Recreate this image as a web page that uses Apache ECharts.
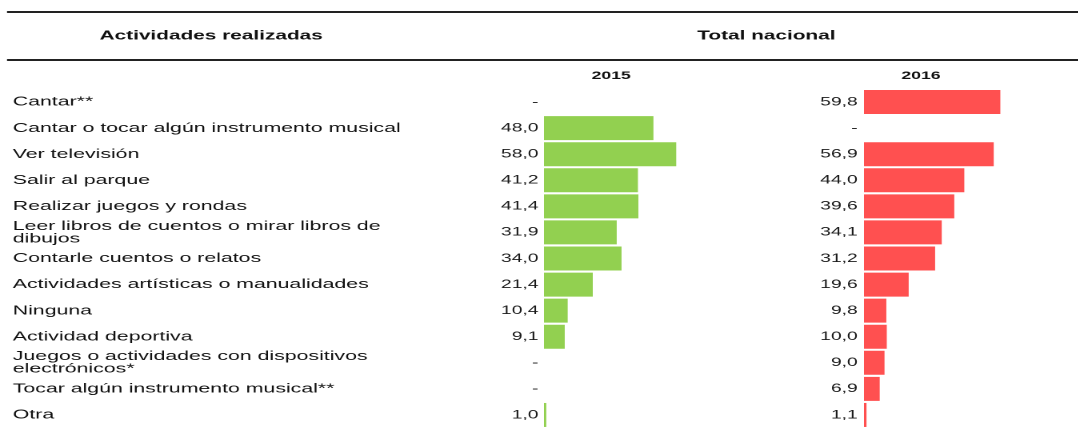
<!DOCTYPE html>
<html>
<head>
<meta charset="utf-8">
<script src="https://cdn.jsdelivr.net/npm/echarts@6/dist/echarts.min.js"></script>
<style>
  html, body { margin: 0; padding: 0; background: #fff; overflow: hidden; }
  /* el original se ve estirado a lo ancho, se dibuja mas angosto y se escala */
  #chart { width: 674.375px; height: 430px; transform: scaleX(1.6); transform-origin: 0 0; }
</style>
</head>
<body>
<div id="chart"></div>
<script>
// datos
const categories = [
  'Cantar**',
  'Cantar o tocar algún instrumento musical',
  'Ver televisión',
  'Salir al parque',
  'Realizar juegos y rondas',
  'Leer libros de cuentos o mirar libros de\ndibujos',
  'Contarle cuentos o relatos',
  'Actividades artísticas o manualidades',
  'Ninguna',
  'Actividad deportiva',
  'Juegos o actividades con dispositivos\nelectrónicos*',
  'Tocar algún instrumento musical**',
  'Otra'
];
const values2015 = [null, 48.0, 58.0, 41.2, 41.4, 31.9, 34.0, 21.4, 10.4, 9.1, null, null, 1.0];
const values2016 = [59.8, null, 56.9, 44.0, 39.6, 34.1, 31.2, 19.6, 9.8, 10.0, 9.0, 6.9, 1.1];
const years = ['2015', '2016'];
const headerLeft = 'Actividades realizadas';
const headerRight = 'Total nacional';

const SX = 1.6; // factor de estiramiento horizontal
const W = 1079 / SX;

// 48.0 -> "48,0", vacio -> "-"
function fmt(v){
  return v == null ? '-' : v.toFixed(1).replace('.', ',');
}

let chart = echarts.init(document.getElementById('chart'), null, {devicePixelRatio: 2});

const gridTop = 89, gridH = 339;
const xMax = 60, barW = 85.5;
const font = 'Liberation Sans, Arial, sans-serif';

let option = {
  animation: false,
  textStyle: { fontFamily: font },
  grid: [
    {left: 340, top: gridTop, width: barW, height: gridH},
    {left: 540, top: gridTop, width: barW, height: gridH}
  ],
  xAxis: [
    {gridIndex: 0, type: 'value', min: 0, max: xMax, show: false},
    {gridIndex: 1, type: 'value', min: 0, max: xMax, show: false}
  ],
  yAxis: [
    // nombres de actividades
    {
      gridIndex: 0, type: 'category', position: 'left', inverse: true, data: categories,
      axisLine: {show: false}, axisTick: {show: false},
      axisLabel: {
        align: 'left', margin: 332, fontSize: 13.3, lineHeight: 12.5,
        padding: [6, 0, 0, 0], color: '#111', fontFamily: font
      }
    },
    // valores 2015
    {
      gridIndex: 0, type: 'category', position: 'left', offset: 0, inverse: true,
      data: values2015.map(fmt),
      axisLine: {show: false}, axisTick: {show: false},
      axisLabel: {margin: 3.5, fontSize: 12, padding: [6, 0, 0, 0], color: '#1a1a1a', fontFamily: font}
    },
    // valores 2016
    {
      gridIndex: 1, type: 'category', position: 'left', inverse: true,
      data: values2016.map(fmt),
      axisLine: {show: false}, axisTick: {show: false},
      axisLabel: {margin: 4, fontSize: 12, padding: [6, 0, 0, 0], color: '#1a1a1a', fontFamily: font}
    }
  ],
  series: [
    {
      name: years[0], type: 'bar', xAxisIndex: 0, yAxisIndex: 0,
      data: values2015, barCategoryGap: '8%',
      itemStyle: {color: '#92d050'}
    },
    {
      name: years[1], type: 'bar', xAxisIndex: 1, yAxisIndex: 2,
      data: values2016, barCategoryGap: '8%',
      itemStyle: {color: '#ff5050'}
    }
  ],
  graphic: [
    // lineas del encabezado
    {type: 'line', shape: {x1: 4.4, y1: 12, x2: W, y2: 12}, style: {stroke: '#222', lineWidth: 2}},
    {type: 'line', shape: {x1: 4.4, y1: 60, x2: W, y2: 60}, style: {stroke: '#222', lineWidth: 2}},
    {type: 'text', x: 132, y: 36, style: {text: headerLeft, font: 'bold 13px ' + font, fill: '#111', align: 'center', verticalAlign: 'middle'}},
    {type: 'text', x: 479, y: 36, style: {text: headerRight, font: 'bold 13px ' + font, fill: '#111', align: 'center', verticalAlign: 'middle'}},
    {type: 'text', x: 382, y: 76, style: {text: years[0], font: 'bold 11px ' + font, fill: '#111', align: 'center', verticalAlign: 'middle'}},
    {type: 'text', x: 575.6, y: 76, style: {text: years[1], font: 'bold 11px ' + font, fill: '#111', align: 'center', verticalAlign: 'middle'}}
  ]
};

chart.setOption(option);
</script>
</body>
</html>
